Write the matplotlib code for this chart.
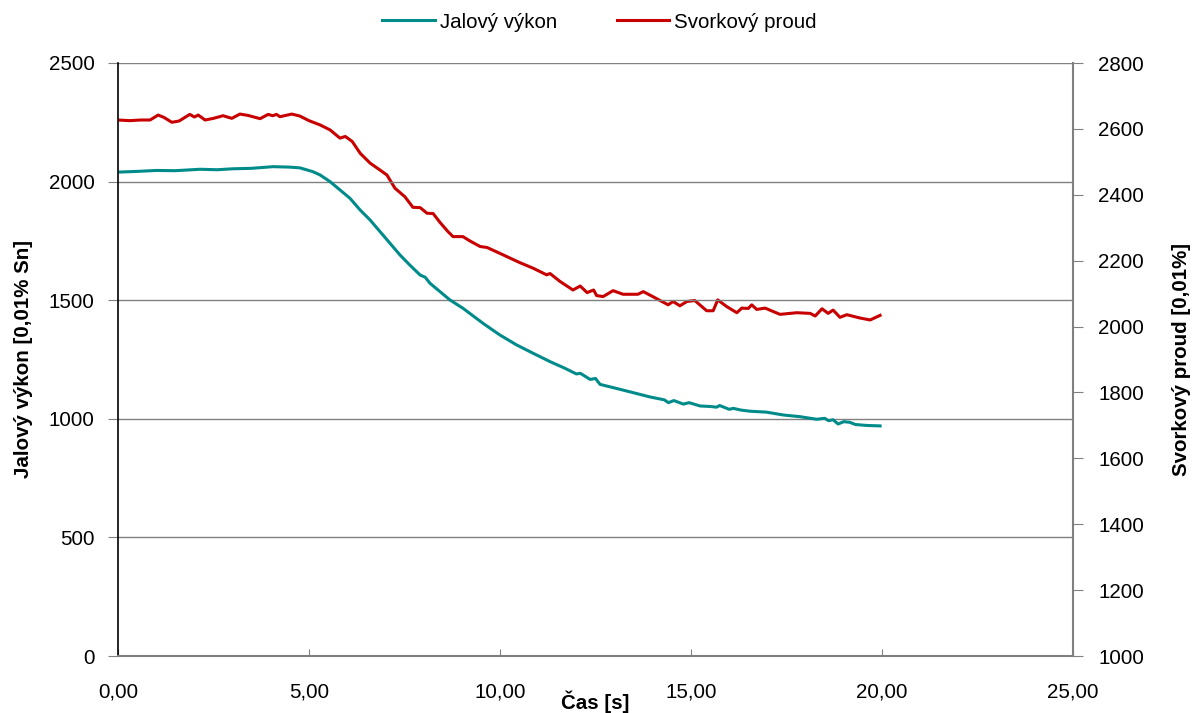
import matplotlib
matplotlib.use("Agg")
import matplotlib.pyplot as plt
from matplotlib.ticker import FuncFormatter

plt.rcParams['font.family'] = ['Liberation Sans', 'DejaVu Sans']

# ---- data ----
t_q = [0, 0.5, 1.0, 1.5, 2.15, 2.6, 3.0, 3.5, 4.06, 4.5, 4.76, 5.1, 5.29, 5.55,
       5.81, 6.07, 6.34, 6.6, 6.86, 7.12, 7.38, 7.64, 7.91, 8.04, 8.17, 8.43,
       8.69, 9.03, 9.56, 10.0, 10.44, 10.87, 11.31, 11.7, 12.0, 12.1, 12.36,
       12.5, 12.62, 13.05, 13.49, 13.93, 14.3, 14.41, 14.55, 14.8, 14.95, 15.24,
       15.5, 15.67, 15.75, 16.0, 16.11, 16.3, 16.54, 16.98, 17.42, 17.85, 18.29,
       18.5, 18.6, 18.72, 18.85, 19.0, 19.16, 19.3, 19.6, 19.95]
q_vals = [2040, 2043, 2047, 2046, 2052, 2050, 2054, 2056, 2063, 2061, 2058,
          2042, 2028, 2000, 1965, 1930, 1880, 1838, 1789, 1740, 1691, 1648,
          1606, 1597, 1571, 1536, 1501, 1466, 1402, 1353, 1311, 1276, 1241,
          1213, 1189, 1192, 1166, 1170, 1145, 1128, 1110, 1092, 1080, 1068,
          1077, 1062, 1068, 1054, 1052, 1049, 1056, 1040, 1044, 1037, 1032,
          1028, 1016, 1009, 998, 1002, 992, 996, 978, 988, 985, 976, 972, 970]

t_i = [0, 0.3, 0.6, 0.84, 1.05, 1.2, 1.41, 1.6, 1.88, 2.0, 2.1, 2.28, 2.5,
       2.75, 2.98, 3.19, 3.4, 3.72, 3.93, 4.05, 4.15, 4.24, 4.55, 4.76, 5.0,
       5.29, 5.55, 5.81, 5.95, 6.13, 6.34, 6.6, 6.86, 7.04, 7.25, 7.51, 7.72,
       7.91, 8.09, 8.25, 8.43, 8.64, 8.77, 9.03, 9.21, 9.48, 9.66, 10.0, 10.52,
       10.87, 11.22, 11.31, 11.57, 11.91, 12.1, 12.28, 12.45, 12.53, 12.7,
       12.96, 13.22, 13.61, 13.75, 14.0, 14.4, 14.53, 14.71, 14.89, 15.1,
       15.41, 15.58, 15.7, 15.93, 16.2, 16.33, 16.5, 16.59, 16.72, 16.94,
       17.33, 17.77, 18.12, 18.25, 18.43, 18.59, 18.72, 18.9, 19.08, 19.42,
       19.69, 19.95]
i_vals = [2627, 2625, 2627, 2627, 2642, 2635, 2620, 2624, 2644, 2636, 2642,
          2627, 2632, 2640, 2632, 2645, 2641, 2631, 2644, 2640, 2644, 2637,
          2645, 2639, 2625, 2612, 2597, 2572, 2577, 2562, 2526, 2496, 2475,
          2460, 2420, 2394, 2362, 2361, 2344, 2343, 2316, 2288, 2273, 2273,
          2260, 2243, 2240, 2222, 2194, 2177, 2157, 2161, 2137, 2111, 2123,
          2103, 2111, 2094, 2091, 2109, 2098, 2098, 2106, 2091, 2066, 2076,
          2063, 2076, 2079, 2048, 2048, 2081, 2061, 2042, 2056, 2055, 2066,
          2052, 2056, 2037, 2042, 2040, 2032, 2054, 2040, 2050, 2028, 2036,
          2026, 2020, 2034]

x_ticks = [0, 5, 10, 15, 20, 25]
left_ticks = [0, 500, 1000, 1500, 2000, 2500]
right_ticks = [1000, 1200, 1400, 1600, 1800, 2000, 2200, 2400, 2600, 2800]

teal = '#008B8B'
red = '#C80000'
grey = '#808080'
FS = 14.8

fig = plt.figure(figsize=(11.99, 7.13), dpi=100)
ax = fig.add_axes([118/1199, 57/713, (1073-118)/1199, 593/713])
ax2 = ax.twinx()

l1, = ax.plot(t_q, q_vals, color=teal, lw=2.2, label='Jalový výkon')
l2, = ax2.plot(t_i, i_vals, color=red, lw=2.2, label='Svorkový proud')

ax.set_xlim(0, 25)
ax.set_ylim(0, 2500)
ax2.set_ylim(1000, 2800)
ax.set_xticks(x_ticks)
ax.set_yticks(left_ticks)
ax2.set_yticks(right_ticks)
ax.xaxis.set_major_formatter(FuncFormatter(lambda v, p: f"{v:.2f}".replace('.', ',')))

for y in left_ticks[1:]:
    ax.axhline(y, color=grey, lw=1.0, zorder=0)

ax.spines['top'].set_visible(False)
ax2.spines['top'].set_visible(False)
ax.spines['left'].set_color('black')
ax.spines['left'].set_linewidth(1.2)
ax.spines['bottom'].set_color(grey)
ax.spines['bottom'].set_linewidth(1.5)
ax2.spines['right'].set_color(grey)
ax2.spines['right'].set_linewidth(1.5)
ax2.spines['left'].set_visible(False)
ax2.spines['bottom'].set_visible(False)
ax.spines['right'].set_visible(False)

ax.tick_params(axis='x', direction='in', length=5, color=grey, labelsize=FS, pad=19)
ax.tick_params(axis='y', direction='out', length=7, color=grey, labelsize=FS, pad=10)
ax2.tick_params(axis='y', direction='out', length=7, color=grey, labelsize=FS, pad=11)

ax.set_ylabel('Jalový výkon [0,01% Sn]', fontsize=FS, fontweight='bold')
ax.yaxis.set_label_coords(-85/955, 0.5)
ax2.set_ylabel('Svorkový proud [0,01%]', fontsize=FS, fontweight='bold')
ax2.yaxis.set_label_coords(1 + 99/955, 0.5)
ax.set_xlabel('Čas [s]', fontsize=FS, fontweight='bold')
ax.xaxis.set_label_coords(0.5, -0.077)
ax.xaxis.label.set_va('center')

ax.set_zorder(ax2.get_zorder() + 1)
ax.patch.set_visible(False)

fig.legend(handles=[l1, l2], loc='center', bbox_to_anchor=(0.5, 1 - 22/713),
           ncol=2, frameon=False, fontsize=FS, handlelength=2.55,
           columnspacing=2.9, handletextpad=0.25)

fig.savefig('out.png', dpi=100)
